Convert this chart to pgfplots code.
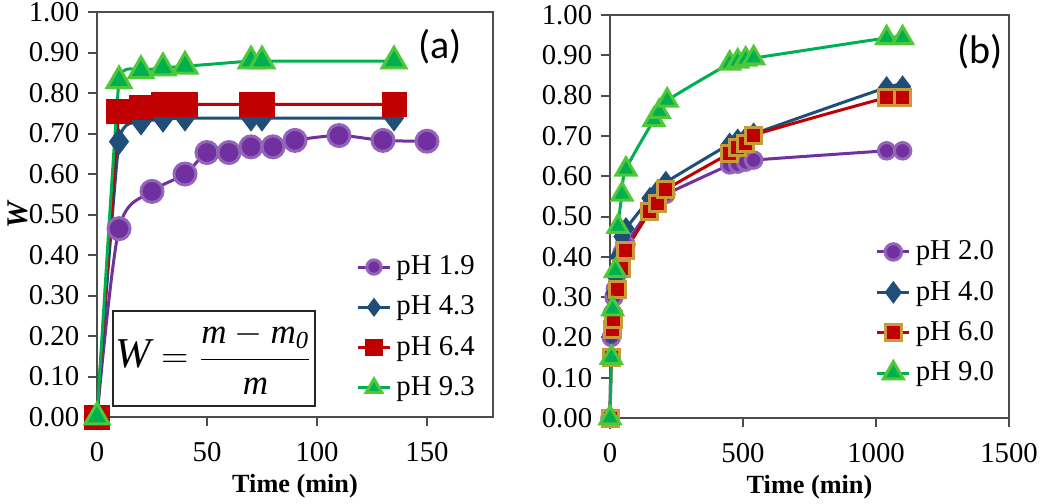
\documentclass[border=0pt]{standalone}
\usepackage{fontspec}
\setmainfont{Liberation Serif}
\newfontfamily\calib{Carlito}
\usepackage{amsmath}
\usepackage{pgfplots}
\pgfplotsset{compat=1.18}

\definecolor{cpurple}{HTML}{7030A0}
\definecolor{cblue}{HTML}{1F4E79}
\definecolor{cred}{HTML}{C00000}
\definecolor{cgreen}{HTML}{00B050}
\definecolor{cgold}{HTML}{C89A3C}

\pgfplotsset{
  kin/.style={
    scale only axis,
    xmin=0, ymin=0, ymax=1,
    ytick={0,0.1,0.2,0.3,0.4,0.5,0.6,0.7,0.8,0.9,1},
    yticklabels={0.00,0.10,0.20,0.30,0.40,0.50,0.60,0.70,0.80,0.90,1.00},
    tick align=outside, tick pos=left,
    major tick length=3.6pt,
    axis line style={black!70, line width=0.8pt},
    every tick/.style={black!70, line width=0.8pt},
    ticklabel style={font=\rmfamily\fontsize{11.5}{13}\selectfont},
    xticklabel style={yshift=-3pt},
    xlabel={Time (min)},
    xlabel style={font=\fontsize{10.5}{12}\selectfont\bfseries, yshift=2pt},
    clip=false,
    legend cell align=left,
    legend style={draw=none, fill=none, anchor=north west,
      font=\fontsize{11.5}{13}\selectfont, row sep=3pt, inner sep=0pt},
    legend image code/.code={
      \draw[mark repeat=2, mark phase=2] plot coordinates {(0pt,0pt) (6.4pt,0pt) (12.8pt,0pt)};},
  },
}

\begin{document}
\begin{tikzpicture}
\useasboundingbox (0,0) rectangle (420pt,201.2pt);

% ---- panel (a)
\begin{axis}[kin,
  at={(38.8pt,34.4pt)}, anchor=south west,
  width=158.4pt, height=162pt,
  xmax=180, xtick={0,50,100,150}, xticklabels={0,50,100,150},
  ylabel={\textbf{\textit{W}}},
  ylabel style={at={(axis description cs:-0.2,0.5)}, anchor=center, font=\fontsize{12}{14}\selectfont},
  legend style={at={(rel axis cs:0.654,0.412)}},
  legend image post style={/tikz/every mark/.append style={scale=0.65}},
]
\addplot[cpurple, line width=1.2pt, smooth, mark=*, mark size=4.4pt,
  mark options={fill=cpurple, draw=cpurple!75!white}] coordinates {
  (0,0) (10,0.465) (25,0.557) (40,0.600) (50,0.653) (60,0.653) (70,0.667)
  (80,0.667) (90,0.683) (110,0.695) (130,0.683) (150,0.681)};
\addlegendentry{pH 1.9}
\addplot[cblue, line width=1.2pt, smooth, tension=0.3, mark=diamond*, mark size=4.4pt,
  mark options={fill=cblue, draw=cblue}] coordinates {
  (0,0) (10,0.680) (20,0.728) (30,0.735) (40,0.738) (70,0.738) (75,0.738) (135,0.738)};
\addlegendentry{pH 4.3}
\addplot[cred, line width=1.2pt, smooth, tension=0.2, mark=square*, mark size=4.4pt,
  mark options={fill=cred, draw=cred}] coordinates {
  (0,0) (10,0.755) (20,0.763) (30,0.772) (40,0.772) (70,0.772) (75,0.772) (135,0.772)};
\addlegendentry{pH 6.4}
\addplot[cgreen, line width=1.2pt, smooth, tension=0.2, mark=triangle*, mark size=5.5pt,
  mark options={fill=cgreen, draw=cgreen!70!yellow}] coordinates {
  (0,0) (10,0.830) (20,0.855) (30,0.862) (40,0.866) (70,0.879) (75,0.879) (135,0.879)};
\addlegendentry{pH 9.3}

\node[font=\calib\fontsize{16}{18}\selectfont] at (axis cs:156,0.915) {(a)};
\node[draw=black!85, line width=0.6pt, minimum width=72.4pt, minimum height=38pt,
  inner sep=1pt, font=\fontsize{14}{16}\selectfont] at (axis cs:53.2,0.145)
  {$\textit{\fontsize{17}{18}\selectfont W} = \genfrac{}{}{0.3pt}{0}{\textit{m} - \textit{m}_{\textit{0}}\rule[-5pt]{0pt}{0pt}}{\rule{0pt}{13pt}\textit{m}}$};
\end{axis}

% ---- panel (b)
\begin{axis}[kin,
  at={(244pt,34pt)}, anchor=south west,
  width=159.6pt, height=161.2pt,
  xmax=1500, xtick={0,500,1000,1500}, xticklabels={0,500,1000,1500},
  legend style={at={(rel axis cs:0.665,0.454)}},
]
\addplot[cpurple, line width=1.2pt, smooth, mark=*, mark size=3.3pt,
  mark options={fill=cpurple, draw=cpurple!75!white}] coordinates {
  (0,0) (5,0.200) (10,0.260) (15,0.300) (20,0.320) (30,0.360) (45,0.410) (60,0.430)
  (150,0.520) (180,0.540) (210,0.555) (450,0.628) (480,0.630) (510,0.635) (540,0.640)
  (1040,0.663) (1100,0.663)};
\addlegendentry{pH 2.0}
\addplot[cblue, line width=1.2pt, smooth, mark=diamond*, mark size=3.6pt,
  mark options={fill=cblue, draw=cblue}] coordinates {
  (0,0) (5,0.210) (10,0.270) (15,0.310) (20,0.350) (30,0.400) (45,0.450) (60,0.470)
  (150,0.545) (180,0.565) (210,0.585) (450,0.680) (480,0.690) (510,0.695) (540,0.705)
  (1040,0.820) (1100,0.822)};
\addlegendentry{pH 4.0}
\addplot[cred, line width=1.2pt, smooth, mark=square*, mark size=3.2pt,
  mark options={fill=cred, draw=cgold}] coordinates {
  (0,0) (5,0.150) (10,0.220) (15,0.245) (30,0.320) (45,0.370) (60,0.415)
  (150,0.512) (180,0.533) (210,0.566) (450,0.657) (480,0.670) (510,0.682) (540,0.702)
  (1040,0.795) (1100,0.795)};
\addlegendentry{pH 6.0}
\addplot[cgreen, line width=1.2pt, smooth, mark=triangle*, mark size=4.6pt,
  mark options={fill=cgreen, draw=cgreen!70!yellow}] coordinates {
  (0,0) (5,0.150) (10,0.270) (20,0.365) (30,0.475) (45,0.555) (60,0.617)
  (165,0.740) (185,0.760) (215,0.788) (450,0.880) (480,0.885) (510,0.890) (540,0.893)
  (1040,0.943) (1100,0.943)};
\addlegendentry{pH 9.0}

\node[font=\calib\fontsize{16}{18}\selectfont] at (axis cs:1391,0.91) {(b)};
\end{axis}
\end{tikzpicture}
\end{document}
